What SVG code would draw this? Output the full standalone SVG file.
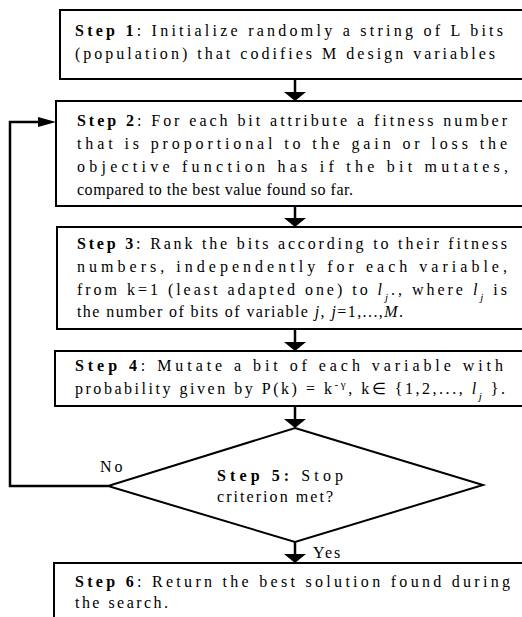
<svg xmlns="http://www.w3.org/2000/svg" width="522" height="617" viewBox="0 0 522 617" font-family="'Liberation Serif', 'Times New Roman', Times, serif">
<style>
.box{fill:#fff;stroke:#000;stroke-width:2}
text{font-family:'Liberation Serif','Times New Roman',Times,serif;font-size:16px;fill:#000}
.b{font-weight:bold}
.i{font-style:italic}
.ln{fill:none;stroke:#000;stroke-width:2.5}
.hd{fill:#000;stroke:none}
</style>
<rect width="522" height="617" fill="#fff"/>
<g id="connectors">
<line class="ln" x1="295" y1="79" x2="295" y2="93"/>
<polygon class="hd" points="284,92 306,92 295,101"/>
<line class="ln" x1="295" y1="206" x2="295" y2="219"/>
<polygon class="hd" points="284,218 306,218 295,227"/>
<line class="ln" x1="295" y1="329" x2="295" y2="343"/>
<polygon class="hd" points="284,342 306,342 295,351"/>
<line class="ln" x1="295" y1="406" x2="295" y2="420"/>
<polygon class="hd" points="284,419 306,419 295,428"/>
<line class="ln" x1="295" y1="542" x2="295" y2="555"/>
<polygon class="hd" points="284,554 306,554 295,563"/>
<polyline class="ln" points="108,486 10,486 10,122 40,122"/>
<polygon class="hd" points="38,117 56,122 38,127"/>
<text x="100" y="472" letter-spacing="3">No</text>
<text x="313" y="558" letter-spacing="2">Yes</text>
</g>
<g id="step1">
<rect class="box" x="60" y="10" width="480" height="69"/>
<text x="75" y="36" textLength="428" lengthAdjust="spacing"><tspan class="b">Step 1</tspan>: Initialize randomly a string of L bits</text>
<text x="75" y="59" textLength="420" lengthAdjust="spacing">(population) that codifies M design variables</text>
</g>
<g id="step2">
<rect class="box" x="56" y="101" width="484" height="105"/>
<text x="77" y="126" textLength="430" lengthAdjust="spacing"><tspan class="b">Step 2</tspan>: For each bit attribute a fitness number</text>
<text x="77" y="149" textLength="430" lengthAdjust="spacing">that is proportional to the gain or loss the</text>
<text x="77" y="172" textLength="431" lengthAdjust="spacing">objective function has if the bit mutates,</text>
<text x="77" y="195" textLength="276" lengthAdjust="spacing">compared to the best value found so far.</text>
</g>
<g id="step3">
<rect class="box" x="57" y="227" width="483" height="102"/>
<text x="77" y="249" textLength="430" lengthAdjust="spacing"><tspan class="b">Step 3</tspan>: Rank the bits according to their fitness</text>
<text x="77" y="272" textLength="430" lengthAdjust="spacing">numbers, independently for each variable,</text>
<text x="77" y="295" textLength="430" lengthAdjust="spacing">from k=1 (least adapted one) to <tspan class="i">l</tspan><tspan class="i" font-size="11" baseline-shift="sub">j</tspan>., where <tspan class="i">l</tspan><tspan class="i" font-size="11" baseline-shift="sub">j</tspan> is</text>
<text x="77" y="317" textLength="326" lengthAdjust="spacing">the number of bits of variable <tspan class="i">j</tspan>, <tspan class="i">j</tspan>=1,...,<tspan class="i">M</tspan>.</text>
</g>
<g id="step4">
<rect class="box" x="55" y="351" width="485" height="55"/>
<text x="75" y="371" textLength="428" lengthAdjust="spacing"><tspan class="b">Step 4</tspan>: Mutate a bit of each variable with</text>
<text x="75" y="394" textLength="430" lengthAdjust="spacing">probability given by P(k) = k<tspan font-size="11" baseline-shift="super">-γ</tspan>, k∈ {1,2,..., <tspan class="i">l</tspan><tspan class="i" font-size="11" baseline-shift="sub">j</tspan> }.</text>
</g>
<g id="step5">
<polygon points="295,428 483,485 295,542 108,486" fill="#fff" stroke="#000" stroke-width="2"/>
<text x="217" y="481" textLength="126" lengthAdjust="spacing"><tspan class="b">Step 5:</tspan> Stop</text>
<text x="217" y="502" textLength="116" lengthAdjust="spacing">criterion met?</text>
</g>
<g id="step6">
<rect class="box" x="54" y="563" width="486" height="70"/>
<text x="75" y="587" textLength="435" lengthAdjust="spacing"><tspan class="b">Step 6</tspan>: Return the best solution found during</text>
<text x="75" y="608" textLength="93" lengthAdjust="spacing">the search.</text>
</g>
</svg>
